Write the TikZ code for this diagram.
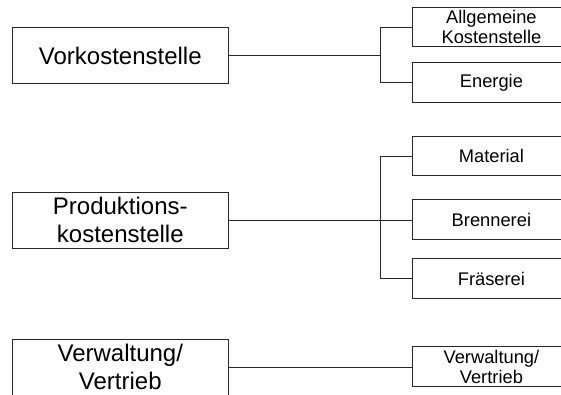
\documentclass[tikz,border=0pt]{standalone}
\usepackage{fontspec}
\setmainfont{Liberation Sans}
\usepackage{tikz}
\usetikzlibrary{positioning,calc}
\definecolor{lineblack}{RGB}{40,40,40}

\begin{document}
\begin{tikzpicture}[x=1pt, y=-1pt,
    bigbox/.style={draw=lineblack, line width=0.8pt, inner sep=0pt,
      minimum width=216pt, minimum height=56pt, align=center,
      font=\fontsize{24}{28}\selectfont},
    smallbox/.style={draw=lineblack, line width=0.8pt, inner sep=0pt,
      minimum width=158pt, minimum height=39.5pt, align=center, anchor=west,
      font=\fontsize{18.3}{20}\selectfont},
    link/.style={draw=lineblack, line width=0.8pt}]
        \useasboundingbox (0,0) rectangle (561,394);
        \clip (0,0) rectangle (561,394);
        % Main cost centres
        \node[bigbox] (vk) at (120.3,55.5) {Vorkostenstelle};
        \node[bigbox] (pk) at (120.3,220.3) {Produktions-\\kostenstelle};
        \node[bigbox] (vw) at (120.3,367) {Verwaltung/\\Vertrieb};
        % Sub cost centres
        \node[smallbox] (ak) at (412,27) {Allgemeine\\Kostenstelle};
        \node[smallbox] (en) at (412,82.5) {Energie};
        \node[smallbox] (ma) at (412,156) {Material};
        \node[smallbox] (br) at (412,219.5) {Brennerei};
        \node[smallbox] (fr) at (412,278.5) {Fräserei};
        \node[smallbox] (vt) at (412,366.5) {Verwaltung/\\Vertrieb};
        % Bracket columns
        \coordinate (b1) at (380.7,0);
        \coordinate (j1) at (vk.east -| b1);
        \coordinate (j2) at (pk.east -| b1);
        % Connectors
        \draw[link] (vk.east) -- (j1);
        \draw[link] (ak.west) -| (j1) |- (en.west);
        \draw[link] (pk.east) -- (pk.east -| br.west);
        \draw[link] (ma.west) -| (j2) |- (fr.west);
        \draw[link] (vw.east) -- (vw.east -| vt.west);
\end{tikzpicture}
\end{document}
